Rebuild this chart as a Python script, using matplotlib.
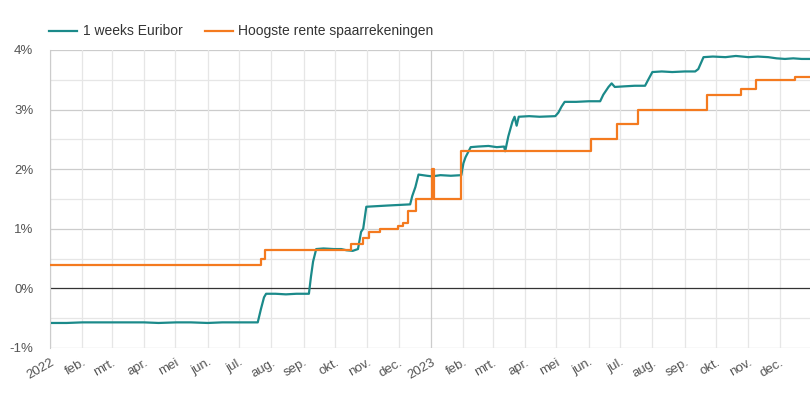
import matplotlib
matplotlib.use("Agg")
import matplotlib.pyplot as plt
import numpy as np
import datetime as dt

plt.rcParams['font.family'] = ['Liberation Sans', 'DejaVu Sans']

# 1 weeks Euribor (dates, value in %)
euribor_dates = [
    "2022-01-03", "2022-01-17", "2022-02-01", "2022-02-15", "2022-03-01", "2022-03-15",
    "2022-04-01", "2022-04-15", "2022-05-02", "2022-05-16", "2022-06-01", "2022-06-15",
    "2022-07-01", "2022-07-12", "2022-07-19", "2022-07-22", "2022-07-25", "2022-07-27",
    "2022-08-05", "2022-08-15", "2022-08-25", "2022-09-02", "2022-09-06", "2022-09-08",
    "2022-09-10", "2022-09-13", "2022-09-20", "2022-09-30", "2022-10-07", "2022-10-12",
    "2022-10-18", "2022-10-23", "2022-10-26", "2022-10-28", "2022-10-31", "2022-11-10",
    "2022-11-20", "2022-12-01", "2022-12-12", "2022-12-14", "2022-12-17", "2022-12-20",
    "2022-12-28", "2023-01-02", "2023-01-10", "2023-01-20", "2023-01-30", "2023-02-01",
    "2023-02-03", "2023-02-08", "2023-02-15", "2023-02-25", "2023-03-05", "2023-03-12",
    "2023-03-13", "2023-03-16", "2023-03-20", "2023-03-22", "2023-03-24", "2023-03-26",
    "2023-04-05", "2023-04-15", "2023-04-30", "2023-05-03", "2023-05-06", "2023-05-09",
    "2023-05-20", "2023-06-01", "2023-06-12", "2023-06-15", "2023-06-20", "2023-06-23",
    "2023-06-26", "2023-07-05", "2023-07-15", "2023-07-25", "2023-07-28", "2023-08-01",
    "2023-08-10", "2023-08-20", "2023-09-01", "2023-09-11", "2023-09-14", "2023-09-17",
    "2023-09-19", "2023-09-28", "2023-10-10", "2023-10-20", "2023-11-01", "2023-11-10",
    "2023-11-20", "2023-11-28", "2023-12-06", "2023-12-14", "2023-12-22", "2023-12-29",
]
euribor_values = [
    -0.58, -0.58, -0.57, -0.57, -0.57, -0.57,
    -0.57, -0.58, -0.57, -0.57, -0.58, -0.57,
    -0.57, -0.57, -0.57, -0.35, -0.15, -0.09,
    -0.09, -0.10, -0.09, -0.09, -0.09, 0.20,
    0.45, 0.66, 0.67, 0.66, 0.66, 0.64,
    0.63, 0.66, 0.95, 1.00, 1.37, 1.38,
    1.39, 1.40, 1.41, 1.55, 1.70, 1.91,
    1.89, 1.88, 1.90, 1.89, 1.90, 2.10,
    2.20, 2.37, 2.38, 2.39, 2.37, 2.38,
    2.30, 2.55, 2.80, 2.88, 2.73, 2.88,
    2.89, 2.88, 2.89, 2.95, 3.05, 3.13,
    3.13, 3.14, 3.14, 3.25, 3.38, 3.44,
    3.38, 3.39, 3.40, 3.40, 3.50, 3.63,
    3.64, 3.63, 3.64, 3.64, 3.68, 3.80,
    3.88, 3.89, 3.88, 3.90, 3.88, 3.89,
    3.88, 3.86, 3.85, 3.86, 3.85, 3.85,
]

# Hoogste rente spaarrekeningen (step changes)
spaar_dates = [
    "2022-01-01", "2022-07-22", "2022-07-26", "2022-10-16", "2022-10-28", "2022-11-03",
    "2022-11-13", "2022-11-30", "2022-12-05", "2022-12-10", "2022-12-18", "2023-01-02",
    "2023-01-04", "2023-01-30", "2023-06-03", "2023-06-28", "2023-07-18", "2023-09-22",
    "2023-10-25", "2023-11-08", "2023-12-16", "2023-12-29",
]
spaar_values = [
    0.40, 0.50, 0.65, 0.75, 0.85, 0.95,
    1.00, 1.05, 1.10, 1.30, 1.50, 2.00,
    1.50, 2.30, 2.50, 2.75, 3.00, 3.25,
    3.35, 3.50, 3.55, 3.55,
]

month_labels = ["2022", "feb.", "mrt.", "apr.", "mei", "jun.", "jul.", "aug.", "sep.", "okt.", "nov.", "dec.",
                "2023", "feb.", "mrt.", "apr.", "mei", "jun.", "jul.", "aug.", "sep.", "okt.", "nov.", "dec."]

teal = "#1b8a8a"
orange = "#f47a1f"

def to_dates(lst):
    return [dt.datetime.strptime(s, "%Y-%m-%d") for s in lst]

fig = plt.figure(figsize=(8.1, 4.0), dpi=100)
ax = fig.add_axes([50/810, 52/400, 760/810, 298/400])

ax.plot(to_dates(euribor_dates), euribor_values, color=teal, lw=1.6, label="1 weeks Euribor", zorder=3)
ax.step(to_dates(spaar_dates), spaar_values, where="post", color=orange, lw=1.6,
        label="Hoogste rente spaarrekeningen", zorder=4)

ax.set_ylim(-1, 4)
ax.set_xlim(dt.datetime(2022, 1, 1), dt.datetime(2023, 12, 30))

# grid lines
for v in np.arange(-1, 4.01, 0.5):
    if v == 0:
        ax.axhline(v, color="#333333", lw=0.9, zorder=2)
    elif v == int(v):
        ax.axhline(v, color="#cccccc", lw=0.9, zorder=1)
    else:
        ax.axhline(v, color="#e6e6e6", lw=0.9, zorder=1)

months = [dt.datetime(2022 + i // 12, i % 12 + 1, 1) for i in range(24)]
for m in months:
    c = "#cccccc" if m.month == 1 else "#e6e6e6"
    ax.axvline(m, color=c, lw=0.9, zorder=1)

ax.set_xticks(months)
ax.set_xticklabels(month_labels, rotation=30, ha="right", rotation_mode="anchor",
                   fontsize=9.5, color="#555555")
ax.set_yticks([-1, 0, 1, 2, 3, 4])
ax.set_yticklabels(["-1%", "0%", "1%", "2%", "3%", "4%"], fontsize=9.5, color="#555555")
ax.tick_params(axis="both", length=0)
ax.tick_params(axis="x", pad=6)
ax.tick_params(axis="y", pad=12)

for s in ["top", "right", "bottom"]:
    ax.spines[s].set_visible(False)
ax.spines["left"].set_color("#cccccc")

ax.legend(loc="lower left", bbox_to_anchor=(-0.008, 1.02), ncol=2, frameon=False,
          fontsize=10, handlelength=2.0, handletextpad=0.4, columnspacing=1.6,
          labelcolor="#333333", borderaxespad=0)

fig.savefig("out.png", dpi=100)
